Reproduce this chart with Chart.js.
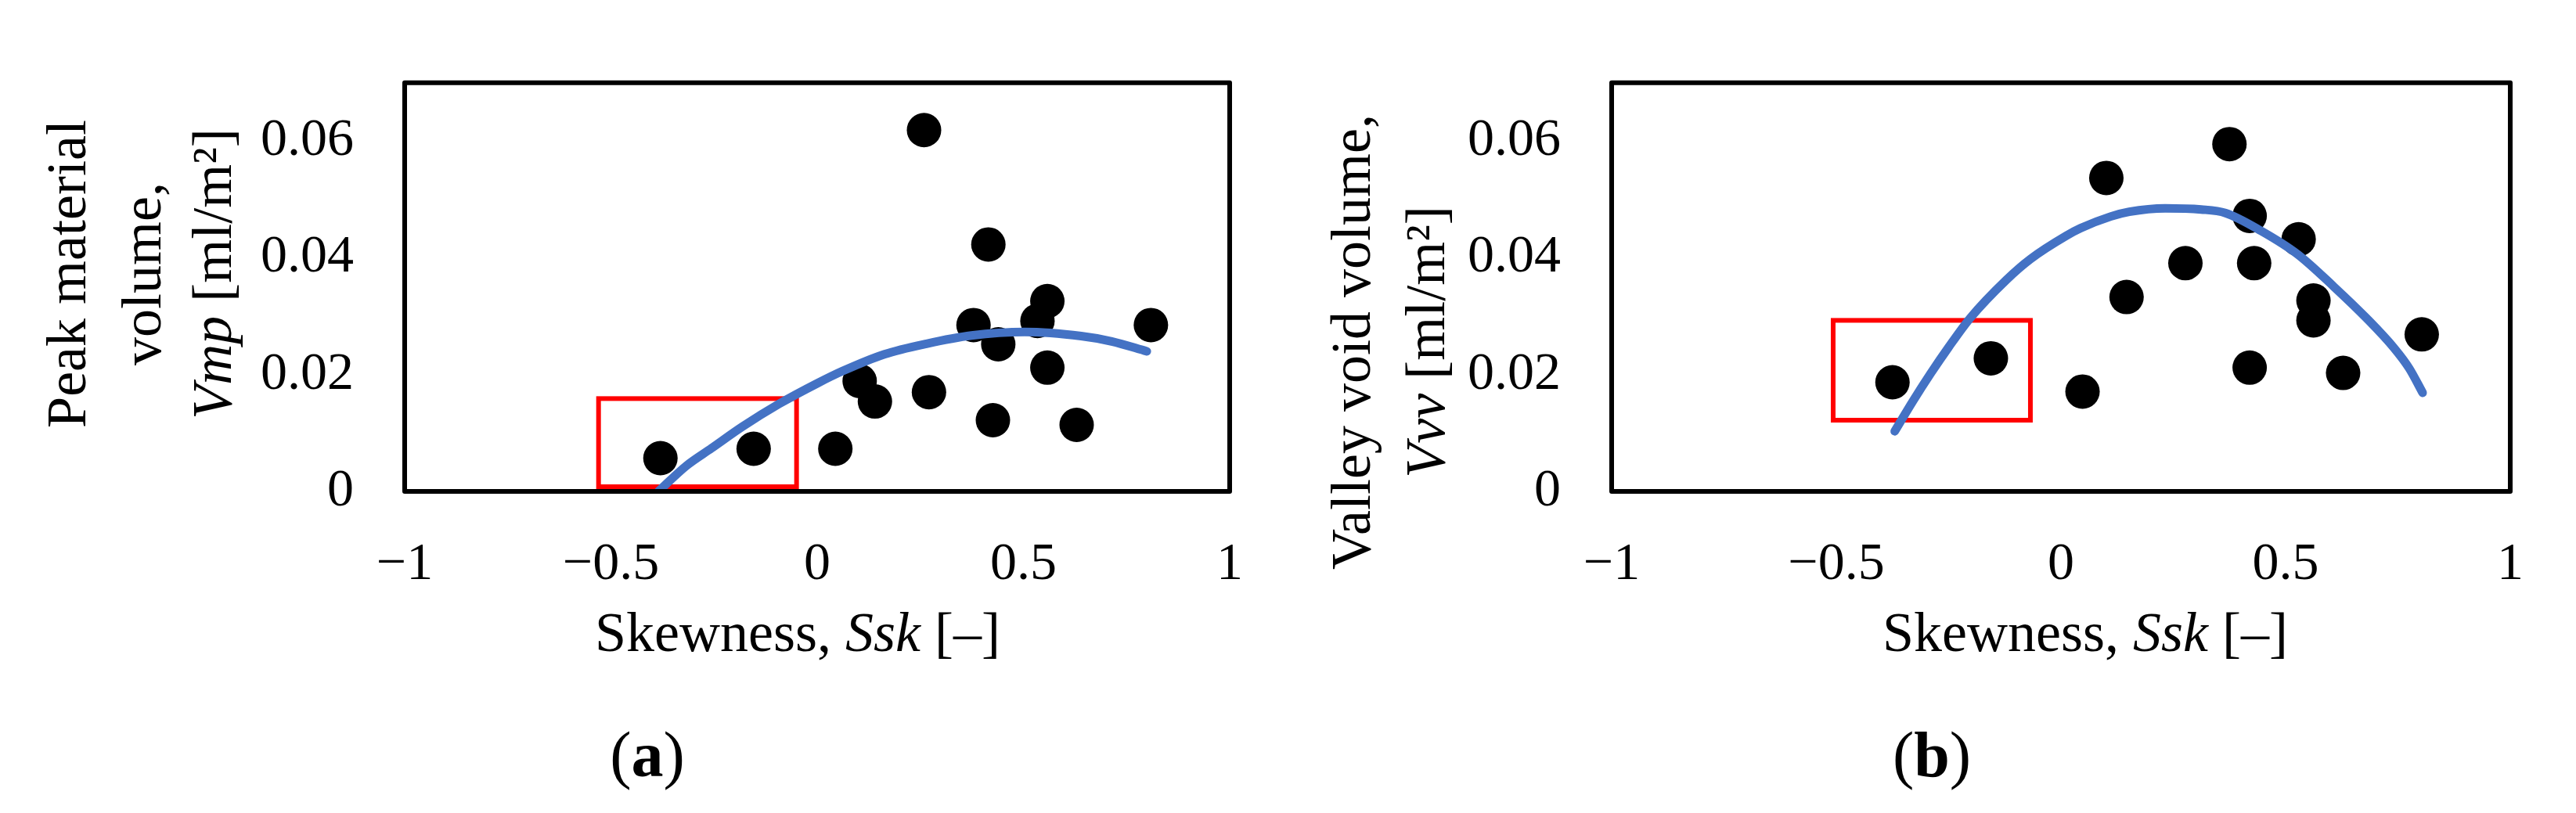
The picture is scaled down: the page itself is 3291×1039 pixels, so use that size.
<!DOCTYPE html>
<html>
<head>
<meta charset="utf-8">
<script src="https://cdn.jsdelivr.net/npm/chart.js@4.4.1/dist/chart.umd.min.js"></script>
<style>
  html, body { margin: 0; padding: 0; background: #fff; }
  #wrap { position: relative; width: 3291px; height: 1039px; background: #fff; }
  canvas { position: absolute; top: 0; }
</style>
</head>
<body>
<div id="wrap">
  <canvas id="chartA" width="1645" height="1039" style="left:0px"></canvas>
  <canvas id="chartB" width="1646" height="1039" style="left:1645px"></canvas>
</div>
<script>
// tick labels
var xTicks = [-1, -0.5, 0, 0.5, 1];
var yTicks = [0, 0.02, 0.04, 0.06];

// (a) peak material volume vs skewness
var skewA = [-0.380, -0.154, 0.044, 0.103, 0.140, 0.259, 0.271, 0.379, 0.415, 0.426, 0.439, 0.534, 0.558, 0.558, 0.629, 0.809];
var vmp   = [0.0057, 0.0073, 0.0073, 0.0189, 0.0154, 0.0619, 0.0170, 0.0285, 0.0423, 0.0122, 0.0252, 0.0292, 0.0326, 0.0212, 0.0114, 0.0285];
// trend line
var trendAx = [-0.385, -0.317, -0.256, -0.181, -0.092, 0.0, 0.061, 0.163, 0.265, 0.374, 0.503, 0.640, 0.714, 0.799];
var trendAy = [0.0000, 0.0044, 0.0074, 0.0111, 0.0150, 0.0185, 0.0206, 0.0235, 0.0253, 0.0267, 0.0273, 0.0266, 0.0257, 0.0240];
// red highlight box [xmin, xmax, ymin, ymax]
var boxA = [-0.530, -0.050, 0.0008, 0.0159];

// (b) valley void volume vs skewness
var skewB = [-0.375, -0.156, 0.048, 0.101, 0.146, 0.277, 0.375, 0.420, 0.430, 0.420, 0.529, 0.562, 0.562, 0.628, 0.803];
var vvv   = [0.0187, 0.0228, 0.0171, 0.0537, 0.0333, 0.0391, 0.0595, 0.0472, 0.0391, 0.0212, 0.0432, 0.0327, 0.0293, 0.0203, 0.0269];
var trendBx = [-0.370, -0.330, -0.290, -0.250, -0.202, -0.122, -0.068, 0.012, 0.044, 0.111, 0.152, 0.232, 0.312, 0.366, 0.446, 0.527, 0.607, 0.681, 0.741, 0.775, 0.805];
var trendBy = [0.0103, 0.0154, 0.0202, 0.0247, 0.0297, 0.0362, 0.0398, 0.0438, 0.0451, 0.0471, 0.0479, 0.0485, 0.0483, 0.0477, 0.0446, 0.0406, 0.0351, 0.0296, 0.0246, 0.0211, 0.0169];
var boxB = [-0.507, -0.068, 0.0122, 0.0293];

var FONT = '"Liberation Serif", "Times New Roman", serif';

function pts(xs, ys) {
  return xs.map(function(x, i) { return { x: x, y: ys[i] }; });
}

function fontStr(seg, size) {
  return (seg.i ? "italic " : "") + (seg.b ? "bold " : "") + size + "px " + FONT;
}

// draws a line of text made of plain / italic / bold pieces, centred on cx
function drawRich(ctx, segs, cx, y, size) {
  var total = 0;
  segs.forEach(function(s) { ctx.font = fontStr(s, size); total += ctx.measureText(s.t).width; });
  var x = cx - total / 2;
  ctx.textAlign = "left";
  ctx.textBaseline = "alphabetic";
  ctx.fillStyle = "#000";
  segs.forEach(function(s) {
    ctx.font = fontStr(s, size);
    ctx.fillText(s.t, x, y);
    x += ctx.measureText(s.t).width;
  });
}

var panelPlugin = {
  id: "panel",
  beforeDatasetsDraw: function(chart) {
    var o = chart.options.plugins.panel;
    var ctx = chart.ctx, xs = chart.scales.x, ys = chart.scales.y;
    var b = o.box;
    var x1 = xs.getPixelForValue(b[0]), x2 = xs.getPixelForValue(b[1]);
    var y1 = ys.getPixelForValue(b[3]), y2 = ys.getPixelForValue(b[2]);
    ctx.save();
    ctx.strokeStyle = "#FF0000";
    ctx.lineWidth = 6;
    ctx.strokeRect(x1, y1, x2 - x1, y2 - y1);
    ctx.restore();
  },
  afterDatasetsDraw: function(chart) {
    var a = chart.chartArea, ctx = chart.ctx;
    ctx.save();
    ctx.strokeStyle = "#000";
    ctx.lineWidth = 6;
    ctx.lineJoin = "round";
    ctx.strokeRect(a.left, a.top, a.right - a.left, a.bottom - a.top);
    ctx.restore();
  },
  afterDraw: function(chart) {
    var o = chart.options.plugins.panel;
    var ctx = chart.ctx;
    ctx.save();
    drawRich(ctx, o.xTitle, o.xTitlePos[0], o.xTitlePos[1], 72);
    o.yTitle.forEach(function(line, i) {
      ctx.save();
      ctx.translate(o.yTitleBase[i], o.yTitleMid);
      ctx.rotate(-Math.PI / 2);
      drawRich(ctx, line, 0, 0, 72);
      ctx.restore();
    });
    drawRich(ctx, o.caption, o.captionPos[0], o.captionPos[1], 82);
    ctx.restore();
  }
};

function makePanel(id, scatterPts, trendPts, p) {
  var H = 1039;
  return new Chart(document.getElementById(id).getContext("2d"), {
    type: "scatter",
    data: {
      datasets: [
        {
          data: trendPts,
          showLine: true,
          borderColor: "#4472C4",
          borderWidth: 11,
          borderCapStyle: "round",
          borderJoinStyle: "round",
          cubicInterpolationMode: "monotone",
          pointRadius: 0,
          order: 0
        },
        {
          data: scatterPts,
          pointRadius: 22,
          pointBackgroundColor: "#000",
          pointBorderWidth: 0,
          order: 1
        }
      ]
    },
    options: {
      responsive: false,
      animation: false,
      layout: { padding: { left: 0, top: p.top, right: p.right, bottom: 0 } },
      plugins: {
        legend: { display: false },
        tooltip: { enabled: false },
        panel: p
      },
      scales: {
        x: {
          type: "linear",
          min: -1,
          max: 1,
          afterBuildTicks: function(s) { s.ticks = xTicks.map(function(v) { return { value: v }; }); },
          afterFit: function(s) { s.height = H - p.bottom; },
          grid: { display: false, drawTicks: false },
          border: { display: false },
          ticks: {
            autoSkip: false,
            maxRotation: 0,
            padding: 53,
            color: "#000",
            font: { family: FONT, size: 68 },
            callback: function(v) { return String(v).replace("-", "\u2212"); }
          }
        },
        y: {
          type: "linear",
          min: 0,
          max: 0.07,
          afterBuildTicks: function(s) { s.ticks = yTicks.map(function(v) { return { value: v }; }); },
          afterFit: function(s) { s.width = p.left; },
          grid: { display: false, drawTicks: false },
          border: { display: false },
          ticks: {
            padding: 65,
            color: "#000",
            font: { family: FONT, size: 68 },
            callback: function(v) { return String(v); }
          }
        }
      }
    },
    plugins: [panelPlugin]
  });
}

document.addEventListener("DOMContentLoaded", function() {
  makePanel("chartA", pts(skewA, vmp), pts(trendAx, trendAy), {
    left: 517, right: 1645 - 1571, top: 90, bottom: 628,
    box: boxA,
    xTitle: [{ t: "Skewness, " }, { t: "Ssk", i: true }, { t: " [\u2013]" }],
    xTitlePos: [1019, 832],
    yTitle: [
      [{ t: "Peak material" }],
      [{ t: "volume," }],
      [{ t: "Vmp", i: true }, { t: " [ml/m\u00b2]" }]
    ],
    yTitleBase: [109, 205, 295],
    yTitleMid: 350,
    caption: [{ t: "(" }, { t: "a", b: true }, { t: ")" }],
    captionPos: [827, 992]
  });

  makePanel("chartB", pts(skewB, vvv), pts(trendBx, trendBy), {
    left: 2059 - 1645, right: 1646 - (3207 - 1645), top: 90, bottom: 628,
    box: boxB,
    xTitle: [{ t: "Skewness, " }, { t: "Ssk", i: true }, { t: " [\u2013]" }],
    xTitlePos: [1019, 832],
    yTitle: [
      [{ t: "Valley void volume," }],
      [{ t: "Vvv", i: true }, { t: " [ml/m\u00b2]" }]
    ],
    yTitleBase: [105, 200],
    yTitleMid: 437,
    caption: [{ t: "(" }, { t: "b", b: true }, { t: ")" }],
    captionPos: [823, 992]
  });
});
</script>
</body>
</html>
